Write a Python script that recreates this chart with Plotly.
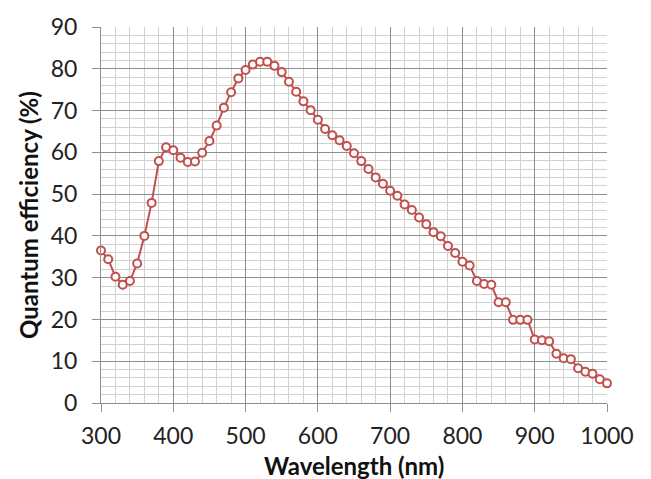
import plotly.graph_objects as go

wavelength = list(range(300, 1001, 10))
qe = [36.5, 34.4, 30.2, 28.3, 29.2, 33.4, 40.0, 47.9, 57.9, 61.2,
      60.5, 58.7, 57.7, 57.8, 59.9, 62.7, 66.4, 70.7, 74.4, 77.7,
      79.7, 81.0, 81.7, 81.7, 80.7, 79.2, 76.9, 74.5, 72.2, 70.1,
      67.8, 65.6, 64.1, 62.9, 61.5, 59.8, 57.9, 56.0, 54.0, 52.5,
      50.8, 49.6, 47.5, 46.2, 44.4, 42.8, 40.9, 39.9, 37.6, 35.9,
      33.8, 32.9, 29.2, 28.5, 28.3, 24.1, 24.1, 19.9, 19.9, 19.9,
      15.2, 15.0, 14.8, 11.8, 10.7, 10.5, 8.3, 7.5, 7.0, 5.7, 4.7]

x_ticks = [300, 400, 500, 600, 700, 800, 900, 1000]
y_ticks = [0, 10, 20, 30, 40, 50, 60, 70, 80, 90]

red = "#c0504d"
major = "#8e8e8e"
minor = "#d0d0d0"
font = "Lato"

fig = go.Figure()
fig.add_trace(go.Scatter(
    x=wavelength, y=qe, mode="lines+markers",
    line=dict(color=red, width=2),
    marker=dict(symbol="circle", size=8, color="white",
                line=dict(color=red, width=2)),
    showlegend=False, cliponaxis=False,
))

fig.update_layout(
    width=651, height=479,
    margin=dict(l=101, r=44, t=15, b=76),
    paper_bgcolor="white", plot_bgcolor="white",
    font=dict(family=font, size=23, color="#222"),
    xaxis=dict(
        range=[300, 1000], tickvals=x_ticks, ticktext=[str(v) for v in x_ticks],
        showgrid=True, gridcolor=major, gridwidth=1,
        minor=dict(dtick=20, tick0=300, showgrid=True, gridcolor=minor, gridwidth=1),
        showline=True, linecolor=major, linewidth=1,
        ticks="outside", ticklen=8, tickcolor=major, tickwidth=1,
        ticklabelstandoff=4,
        zeroline=False, fixedrange=True,
        tickfont=dict(family=font, size=23, color="#222"),
    ),
    yaxis=dict(
        range=[0, 90], tickvals=y_ticks, ticktext=[str(v) for v in y_ticks],
        showgrid=True, gridcolor=major, gridwidth=1,
        minor=dict(dtick=2, tick0=0, showgrid=True, gridcolor=minor, gridwidth=1),
        showline=True, linecolor=major, linewidth=1,
        ticks="outside", ticklen=8, tickcolor=major, tickwidth=1,
        ticklabelstandoff=10,
        zeroline=False, fixedrange=True,
        tickfont=dict(family=font, size=23, color="#222"),
    ),
    annotations=[
        dict(text="<b>Quantum efficiency (%)</b>", textangle=-90,
             xref="paper", yref="paper", x=(28 - 101) / 506, y=0.5,
             xanchor="center", yanchor="middle", showarrow=False,
             font=dict(family=font, size=24, color="#111")),
        dict(text="<b>Wavelength (nm)</b>",
             xref="paper", yref="paper", x=0.5, y=-(467 - 403) / 388,
             xanchor="center", yanchor="middle", showarrow=False,
             font=dict(family=font, size=24, color="#111")),
    ],
)

fig.write_html("out.html")
